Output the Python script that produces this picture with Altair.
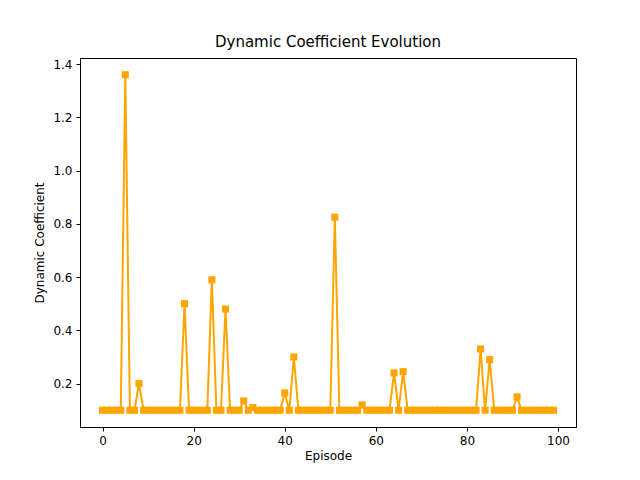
import altair as alt
import pandas as pd

episodes = list(range(100))
spikes = {5: 1.36, 8: 0.2, 18: 0.50, 24: 0.59, 27: 0.48, 31: 0.135, 33: 0.11,
          40: 0.165, 42: 0.30, 51: 0.825, 57: 0.12, 64: 0.24, 66: 0.245,
          83: 0.33, 85: 0.29, 91: 0.15}
values = [spikes.get(e, 0.1) for e in episodes]
df = pd.DataFrame({"Episode": episodes, "Coef": values})

font = "DejaVu Sans"
chart = alt.Chart(df).mark_line(
    color="orange", strokeWidth=2, clip=True,
    point=alt.OverlayMarkDef(shape="square", size=50, color="orange", filled=True, opacity=1)
).encode(
    x=alt.X("Episode:Q", scale=alt.Scale(domain=[-4.95, 103.95], nice=False, zero=False),
            axis=alt.Axis(values=[0, 20, 40, 60, 80, 100], title="Episode", grid=False,
                          tickSize=4, labelPadding=4, titlePadding=4)),
    y=alt.Y("Coef:Q", scale=alt.Scale(domain=[0.037, 1.423], nice=False, zero=False),
            axis=alt.Axis(values=[0.2, 0.4, 0.6, 0.8, 1.0, 1.2, 1.4], format=".1f",
                          title="Dynamic Coefficient", grid=False, tickSize=4, labelPadding=4,
                          titlePadding=6)),
).properties(
    width=496, height=369,
    title=alt.TitleParams("Dynamic Coefficient Evolution", fontSize=15, fontWeight="normal", font=font, offset=8),
    autosize=alt.AutoSizeParams(type="none"),
    padding={"left": 72, "top": 50, "right": 56, "bottom": 45},
).configure_axis(
    labelFont=font, titleFont=font, labelFontSize=12, titleFontSize=12,
    titleFontWeight="normal", labelColor="black", titleColor="black",
    domainColor="black", tickColor="black",
).configure_view(stroke="black", strokeWidth=1)

chart.save("out.html", embed_options={"renderer": "svg", "actions": False})
